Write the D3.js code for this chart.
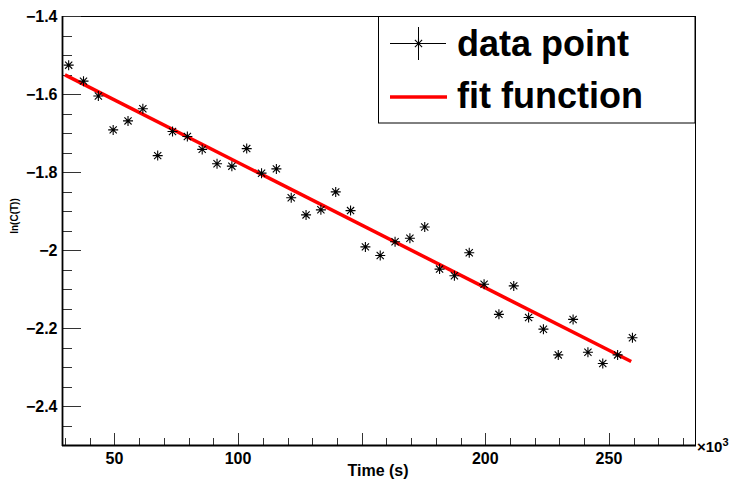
<!DOCTYPE html>
<html>
<head>
<meta charset="utf-8">
<script src="https://cdn.jsdelivr.net/npm/d3@7"></script>
<style>
  body { margin: 0; background: #fff; }
  text { font-family: "Liberation Sans", Arial, Helvetica, sans-serif; }
</style>
</head>
<body>
<svg id="chart" width="731" height="485"></svg>
<script>
// measured data (time in 10^3 s, ln(C(T)))
var timeVals = [31.5, 37.5, 43.5, 49.5, 55.5, 61.5, 67.5, 73.5, 79.5, 85.5,
                91.5, 97.5, 103.5, 109.5, 115.5, 121.5, 127.5, 133.5, 139.5, 145.5,
                151.5, 157.5, 163.5, 169.5, 175.5, 181.5, 187.5, 193.5, 199.5, 205.5,
                211.5, 217.5, 223.5, 229.5, 235.5, 241.5, 247.5, 253.5, 259.5];
var lnVals = [-1.526, -1.567, -1.605, -1.692, -1.669, -1.638, -1.758, -1.696, -1.709, -1.742,
              -1.779, -1.785, -1.740, -1.803, -1.792, -1.866, -1.910, -1.897, -1.851, -1.899,
              -1.992, -2.014, -1.979, -1.970, -1.941, -2.049, -2.066, -2.007, -2.088, -2.165,
              -2.092, -2.173, -2.203, -2.269, -2.178, -2.262, -2.291, -2.269, -2.225];

// fit line end points
var fitX = [30, 259];
var fitY = [-1.551, -2.286];

var xTicks = [50, 100, 150, 200, 250];
var xLabels = [50, 100, 200, 250];   // 150 is hidden under the axis title
var yTicks = [-1.4, -1.6, -1.8, -2.0, -2.2, -2.4];
var legendLabels = ["data point", "fit function"];

var svg = d3.select("#chart");
var fLeft = 62, fRight = 695, fTop = 16, fBottom = 445;

var x = d3.scaleLinear().domain([28.8, 284.8]).range([fLeft, fRight]);
var y = d3.scaleLinear().domain([-2.5, -1.4]).range([fBottom, fTop]);

// frame
svg.append("rect")
    .attr("x", fLeft + 0.5).attr("y", fTop + 0.5)
    .attr("width", fRight - fLeft).attr("height", fBottom - fTop)
    .style("fill", "none").style("stroke", "black").style("stroke-width", 1);

// y axis ticks
var yMinor = d3.range(-2.45, -1.4 + 1e-9, 0.05);
svg.selectAll(".yminor").data(yMinor).enter().append("line")
    .attr("x1", fLeft).attr("x2", fLeft + 10)
    .attr("y1", function (d) { return Math.round(y(d)) + 0.5; })
    .attr("y2", function (d) { return Math.round(y(d)) + 0.5; })
    .style("stroke", "#333").style("stroke-width", 1);
svg.selectAll(".ymajor").data(yTicks).enter().append("line")
    .attr("x1", fLeft).attr("x2", fLeft + 19)
    .attr("y1", function (d) { return Math.round(y(d)) + 0.5; })
    .attr("y2", function (d) { return Math.round(y(d)) + 0.5; })
    .style("stroke", "#333").style("stroke-width", 1);
svg.selectAll(".ylab").data(yTicks).enter().append("text")
    .attr("x", 57.5)
    .attr("y", function (d) { return y(d) + 6; })
    .attr("text-anchor", "end")
    .style("font-size", "16px").style("font-weight", "bold")
    .text(function (d) { return d3.format(".2~f")(d).replace("-", "\u2212"); });

// x axis ticks
var xMinor = d3.range(30, 284, 10);
svg.selectAll(".xminor").data(xMinor).enter().append("line")
    .attr("x1", function (d) { return Math.round(x(d)) + 0.5; })
    .attr("x2", function (d) { return Math.round(x(d)) + 0.5; })
    .attr("y1", fBottom).attr("y2", fBottom - 7)
    .style("stroke", "#333").style("stroke-width", 1);
svg.selectAll(".xmajor").data(xTicks).enter().append("line")
    .attr("x1", function (d) { return Math.round(x(d)) + 0.5; })
    .attr("x2", function (d) { return Math.round(x(d)) + 0.5; })
    .attr("y1", fBottom).attr("y2", fBottom - 12)
    .style("stroke", "#333").style("stroke-width", 1);
svg.selectAll(".xlab").data(xLabels).enter().append("text")
    .attr("x", function (d) { return x(d); })
    .attr("y", 463.5)
    .attr("text-anchor", "middle")
    .style("font-size", "16px").style("font-weight", "bold")
    .text(function (d) { return d; });

// axis lines a bit heavier
svg.append("line").attr("x1", fLeft + 0.5).attr("x2", fLeft + 0.5).attr("y1", fTop).attr("y2", fBottom + 1)
    .style("stroke", "black").style("stroke-width", 1.8);
svg.append("line").attr("x1", fLeft).attr("x2", fRight + 1).attr("y1", fBottom + 0.5).attr("y2", fBottom + 0.5)
    .style("stroke", "black").style("stroke-width", 1.8);

// exponent label
var ex = svg.append("text").attr("x", 697).attr("y", 452)
    .style("font-size", "15px").style("font-weight", "bold");
ex.append("tspan").text("\u00d710");
ex.append("tspan").attr("dy", -6).style("font-size", "11px").text("3");

// axis titles
svg.append("text")
    .attr("x", 378).attr("y", 476)
    .attr("text-anchor", "middle")
    .style("font-size", "16px").style("font-weight", "bold")
    .text("Time (s)");
svg.append("text")
    .attr("transform", "translate(17.5,216) rotate(-90)")
    .attr("text-anchor", "middle")
    .style("font-size", "10px").style("font-weight", "bold")
    .text("ln(C(T))");

// fit function
var fitPts = fitX.map(function (d, i) { return [d, fitY[i]]; });
var fline = d3.line()
    .x(function (d) { return x(d[0]); })
    .y(function (d) { return y(d[1]); });
svg.append("path")
    .attr("d", fline(fitPts))
    .style("fill", "none")
    .style("stroke", "#ff0000")
    .style("stroke-width", 3.5);

// star marker
function starPath(cx, cy) {
    var a = 5, b = 3.6;
    return "M" + (cx - a) + "," + cy + "H" + (cx + a) +
        "M" + cx + "," + (cy - a) + "V" + (cy + a) +
        "M" + (cx - b) + "," + (cy - b) + "L" + (cx + b) + "," + (cy + b) +
        "M" + (cx - b) + "," + (cy + b) + "L" + (cx + b) + "," + (cy - b);
}
var pts = timeVals.map(function (d, i) { return { t: d, v: lnVals[i] }; });
svg.selectAll(".pt").data(pts).enter().append("path")
    .attr("d", function (d) { return starPath(x(d.t), y(d.v)); })
    .style("fill", "none").style("stroke", "black").style("stroke-width", 1.1);

// legend
var lg = svg.append("g");
lg.append("rect")
    .attr("x", 378.5).attr("y", 16.5).attr("width", 316.5).attr("height", 106.5)
    .style("fill", "white").style("stroke", "black").style("stroke-width", 1);
lg.append("line").attr("x1", 390).attr("x2", 446).attr("y1", 43.5).attr("y2", 43.5)
    .style("stroke", "black").style("stroke-width", 1);
lg.append("line").attr("x1", 418.5).attr("x2", 418.5).attr("y1", 27).attr("y2", 60)
    .style("stroke", "black").style("stroke-width", 1);
lg.append("path").attr("d", starPath(418.5, 43.5))
    .style("fill", "none").style("stroke", "black").style("stroke-width", 1.1);
lg.append("line").attr("x1", 390).attr("x2", 447).attr("y1", 97).attr("y2", 97)
    .style("stroke", "#ff0000").style("stroke-width", 3.5);
lg.selectAll(".lt").data(legendLabels).enter().append("text")
    .attr("x", 457)
    .attr("y", function (d, i) { return 56 + i * 51.5; })
    .style("font-size", "36px").style("font-weight", "bold")
    .text(function (d) { return d; });
</script>
</body>
</html>
